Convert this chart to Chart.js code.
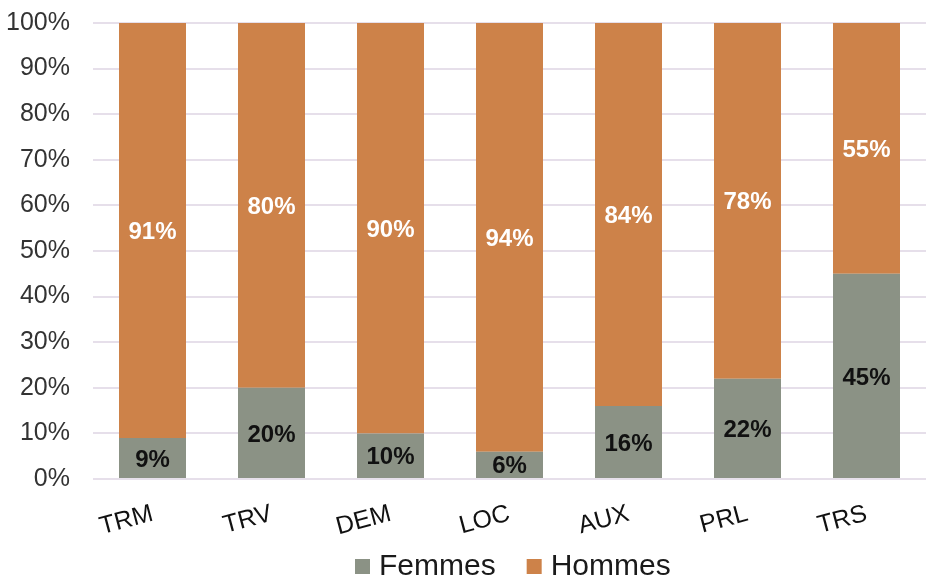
<!DOCTYPE html>
<html>
<head>
<meta charset="utf-8">
<script src="https://cdn.jsdelivr.net/npm/chart.js@4"></script>
<style>
  html, body { margin: 0; padding: 0; background: #fff; }
  #wrap { width: 926px; height: 584px; }
</style>
</head>
<body>
<div id="wrap"><canvas id="bar-chart" width="926" height="584"></canvas></div>
<script>
const categories = ["TRM", "TRV", "DEM", "LOC", "AUX", "PRL", "TRS"];
const femmes = [9, 20, 10, 6, 16, 22, 45];
const hommes = [91, 80, 90, 94, 84, 78, 55];
const yTicks = [0, 10, 20, 30, 40, 50, 60, 70, 80, 90, 100];

// draws the % inside each bar segment
const barLabels = {
  id: 'barLabels',
  afterDatasetsDraw(chart) {
    const ctx = chart.ctx;
    ctx.save();
    ctx.font = 'bold 24px "Liberation Sans", Arial, sans-serif';
    ctx.textAlign = 'center';
    ctx.textBaseline = 'middle';
    chart.data.datasets.forEach((ds, i) => {
      chart.getDatasetMeta(i).data.forEach((bar, j) => {
        ctx.fillStyle = ds.labelColor;
        ctx.fillText(ds.data[j] + '%', bar.x, (bar.y + bar.base) / 2 + 2);
      });
    });
    ctx.restore();
  }
};

// simple legend at the bottom
const bottomLegend = {
  id: 'bottomLegend',
  afterDraw(chart) {
    const ctx = chart.ctx;
    ctx.save();
    ctx.font = '30px "Liberation Sans", Arial, sans-serif';
    ctx.textBaseline = 'middle';
    const y = 567;
    let x = 355;
    chart.data.datasets.forEach((ds) => {
      ctx.fillStyle = ds.backgroundColor;
      ctx.fillRect(x, y - 8, 15, 15);
      ctx.fillStyle = '#1a1a1a';
      ctx.fillText(ds.label, x + 24, y);
      x += 24 + ctx.measureText(ds.label).width + 31;
    });
    ctx.restore();
  }
};

let chart = new Chart(document.getElementById("bar-chart"), {
  type: 'bar',
  data: {
    labels: categories,
    datasets: [{
      label: "Femmes",
      backgroundColor: "#8B9285",
      labelColor: "#111111",
      data: femmes
    }, {
      label: "Hommes",
      backgroundColor: "#CD8249",
      labelColor: "#ffffff",
      data: hommes
    }]
  },
  options: {
    responsive: false,
    animation: false,
    layout: { padding: { top: 23, right: 0, bottom: 44, left: 0 } },
    datasets: { bar: { barPercentage: 0.563, categoryPercentage: 1.0 } },
    plugins: {
      legend: { display: false },
      title: { display: false },
      tooltip: { enabled: false }
    },
    scales: {
      x: {
        stacked: true,
        grid: { display: false },
        border: { display: false },
        ticks: {
          minRotation: 15,
          maxRotation: 15,
          padding: 12,
          color: '#111111',
          font: { size: 25, family: '"Liberation Sans", Arial, sans-serif' }
        },
        afterFit(scale) { scale.height = 61; }
      },
      y: {
        stacked: true,
        min: 0,
        max: 100,
        afterBuildTicks(scale) { scale.ticks = yTicks.map(v => ({ value: v })); },
        grid: { color: '#E6DFEA', lineWidth: 2, drawTicks: true, tickLength: 23, tickColor: 'rgba(0,0,0,0)' },
        border: { display: false },
        ticks: {
          padding: 0,
          color: '#333333',
          font: { size: 25, family: '"Liberation Sans", Arial, sans-serif' },
          callback: v => v + '%'
        },
        afterFit(scale) { scale.width = 93; }
      }
    }
  },
  plugins: [barLabels, bottomLegend]
});
</script>
</body>
</html>
